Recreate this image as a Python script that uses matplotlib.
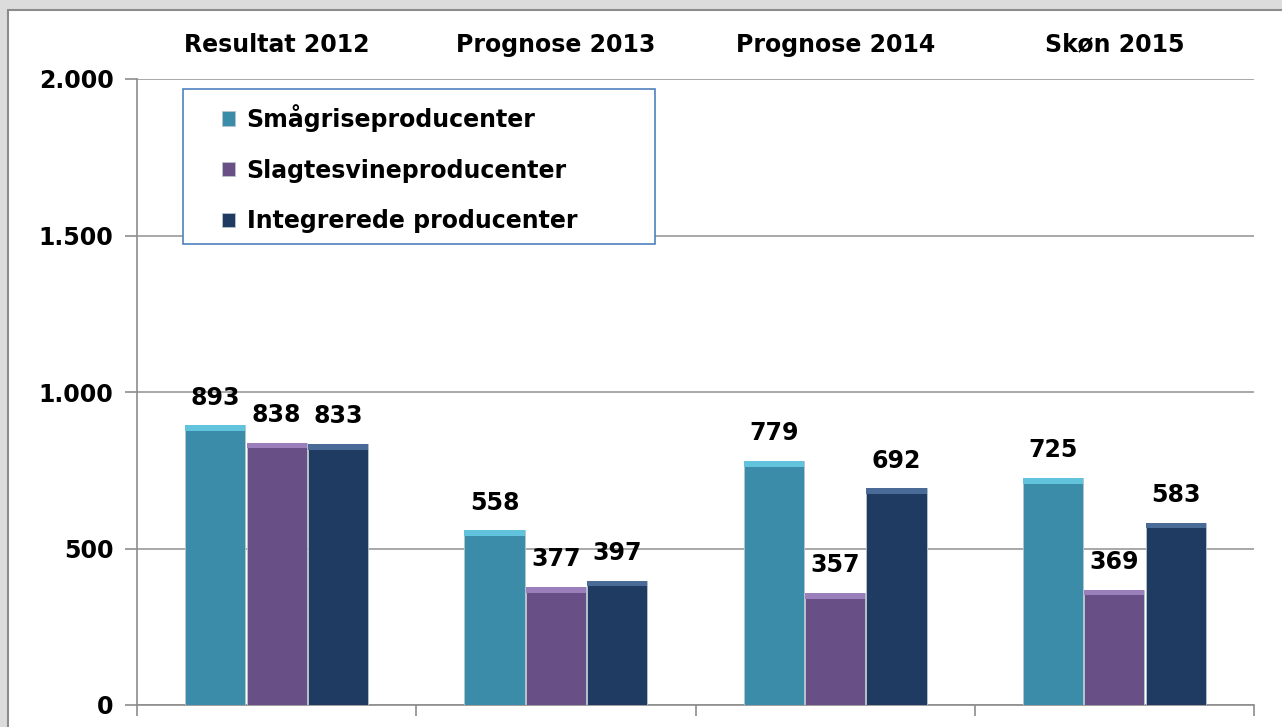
import numpy as np
import matplotlib
matplotlib.use("Agg")
import matplotlib.pyplot as plt
from matplotlib.patches import Rectangle

categories = ["Resultat 2012", "Prognose 2013", "Prognose 2014", "Skøn 2015"]
series_names = ["Smågriseproducenter", "Slagtesvineproducenter", "Integrerede producenter"]
smaagrise = [893, 558, 779, 725]
slagtesvin = [838, 377, 357, 369]
integrerede = [833, 397, 692, 583]
y_ticks = [0, 500, 1000, 1500, 2000]
y_tick_labels = ["0", "500", "1.000", "1.500", "2.000"]

colors = ["#3a8ca8", "#684f86", "#1f3b62"]
caps = ["#62c3dc", "#9a7fba", "#4a6a98"]

plt.rcParams["font.family"] = "DejaVu Sans"
plt.rcParams["font.weight"] = "bold"

fig = plt.figure(figsize=(12.82, 7.27), dpi=100)
fig.patch.set_facecolor("#dcdcdc")
# white chart panel with grey border (right/bottom edges run off the image)
fig.patches.append(Rectangle((8 / 1282, -0.05), 1.1, 1.05 - 10 / 727,
                             transform=fig.transFigure, facecolor="white",
                             edgecolor="#8c8c8c", linewidth=1.5, zorder=-5))

ax = fig.add_axes([137 / 1282, 22 / 727, 1117 / 1282, 626 / 727])
ax.set_facecolor("none")

x = np.arange(len(categories))
w = 0.22
all_series = [smaagrise, slagtesvin, integrerede]
for i, vals in enumerate(all_series):
    pos = x + (i - 1) * w
    ax.bar(pos, vals, w * 0.98, color=colors[i], edgecolor="#b8c4cc",
           linewidth=0.6, label=series_names[i], zorder=3)
    # bevel cap on top of each bar
    ax.bar(pos, [18] * len(vals), w * 0.98, bottom=np.array(vals) - 18,
           color=caps[i], linewidth=0, zorder=4)
    for xp, v in zip(pos, vals):
        ax.annotate(str(v), (xp, v), xytext=(0, 20), textcoords="offset points",
                    ha="center", va="center", fontsize=17, fontweight="bold")

ax.set_xlim(-0.5, len(categories) - 0.5)
ax.set_ylim(0, 2000)
ax.set_yticks(y_ticks)
ax.set_yticklabels(y_tick_labels, fontsize=17, fontweight="bold")
ax.yaxis.grid(True, color="#999999", linewidth=1.2, zorder=0)
ax.set_axisbelow(True)

ax.set_xticks(np.arange(len(categories) + 1) - 0.5)
ax.set_xticklabels([])
ax.tick_params(axis="x", direction="out", length=8, color="#8c8c8c", width=1.2)
ax.tick_params(axis="y", direction="out", length=9, color="#8c8c8c", width=1.2, pad=8)

for s in ["top", "right"]:
    ax.spines[s].set_visible(False)
for s in ["left", "bottom"]:
    ax.spines[s].set_color("#8c8c8c")
    ax.spines[s].set_linewidth(1.2)

# category labels along the top
for xi, c in zip(x, categories):
    ax.text(xi, 1.055, c, transform=ax.get_xaxis_transform(), ha="center",
            va="center", fontsize=17, fontweight="bold")

# legend: frame drawn separately so the entries can sit further inside it
ax.add_patch(Rectangle((0.041, 0.736), 0.423, 0.248, transform=ax.transAxes,
                       facecolor="white", edgecolor="#4f81bd", linewidth=1.2,
                       zorder=5))
leg = ax.legend(loc="upper left", bbox_to_anchor=(0.076, 0.96),
                borderaxespad=0, borderpad=0, fontsize=17, frameon=False,
                handlelength=0.55, handleheight=0.55, handletextpad=0.5,
                labelspacing=1.13)
leg.set_zorder(6)
for t in leg.get_texts():
    t.set_fontweight("bold")

fig.savefig("out.png", dpi=100, facecolor=fig.get_facecolor())
